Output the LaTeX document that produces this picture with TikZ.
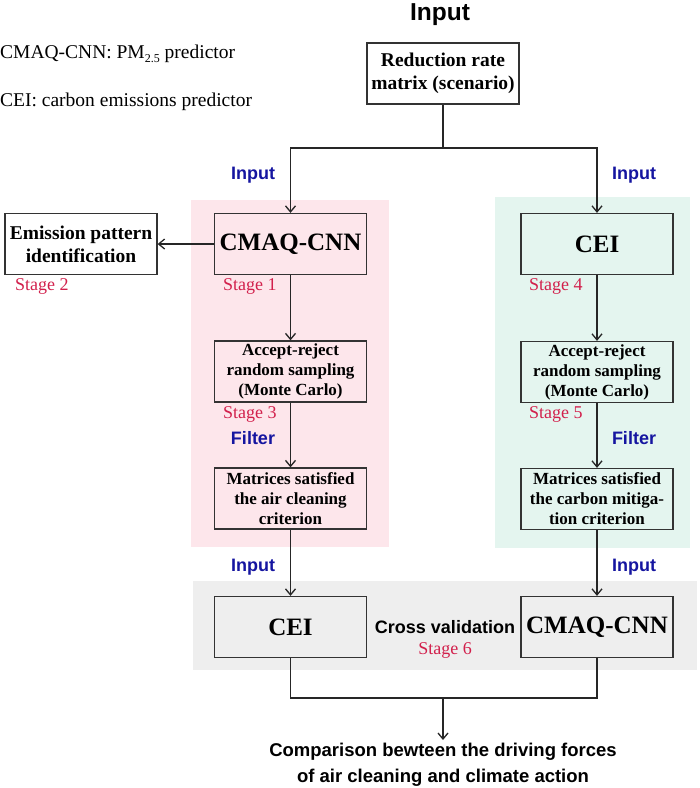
\documentclass[tikz,border=0pt]{standalone}
\usepackage{fontspec}
\setmainfont{Liberation Serif}
\setsansfont{Liberation Sans}
\usetikzlibrary{arrows.meta}

\definecolor{stagered}{HTML}{D2204C}
\definecolor{inblue}{HTML}{1515A0}
\definecolor{pinkbg}{HTML}{FDE6EB}
\definecolor{greenbg}{HTML}{E4F5EF}
\definecolor{graybg}{HTML}{EEEEEE}
\definecolor{boxline}{HTML}{333333}

\begin{document}
\begin{tikzpicture}[x=1pt, y=-1pt,
    box/.style={draw=boxline, line width=1.3pt, align=center, inner sep=0pt,
        minimum width=152pt, minimum height=61pt,
        font=\bfseries\fontsize{19.5}{23}\selectfont},
    smallbox/.style={box, font=\bfseries\fontsize{17}{20}\selectfont},
    bigbox/.style={box, font=\bfseries\fontsize{25}{28}\selectfont},
    inlab/.style={text=inblue, font=\sffamily\bfseries\fontsize{18}{21}\selectfont},
    stagelab/.style={text=stagered, inner sep=0pt, font=\fontsize{18}{21}\selectfont},
    arr/.style={-{Straight Barb[length=6pt, width=10pt]}, line width=1.3pt, draw=black!85},
    line/.style={line width=1.3pt, draw=black!85}]

    \useasboundingbox (0, 0) rectangle (700, 788);

    % Background panels
    \fill[pinkbg] (191, 200) rectangle (389, 547);
    \fill[greenbg] (495, 197) rectangle (690, 548);
    \fill[graybg] (193, 581) rectangle (697, 670);

    % Legend
    \node[anchor=west, inner sep=0pt, font=\fontsize{19.5}{22}\selectfont] (legA) at (0, 54)
        {CMAQ-CNN: PM\raisebox{-0.45ex}{\fontsize{12}{12}\selectfont 2.5} predictor};
    \node[anchor=west, inner sep=0pt, font=\fontsize{19.5}{22}\selectfont] (legB) at (0, 102)
        {CEI: carbon emissions predictor};

    % Title
    \node[font=\sffamily\bfseries\fontsize{24.5}{28}\selectfont] (title) at (440, 15) {Input};

    % Boxes
    \node[box, fill=white] (rrm) at (443, 73.5) {Reduction rate\\matrix (scenario)};
    \node[box, fill=white] (emis) at (81, 244) {Emission pattern\\identification};
    \node[bigbox] (cmaqA) at (290.5, 244) {CMAQ-CNN};
    \node[bigbox] (ceiA) at (597, 244) {CEI};
    \node[smallbox] (sampA) at (290.5, 371.5) {Accept-reject\\random sampling\\(Monte Carlo)};
    \node[smallbox] (sampB) at (597, 372) {Accept-reject\\random sampling\\(Monte Carlo)};
    \node[smallbox] (matA) at (290.5, 498.5) {Matrices satisfied\\the air cleaning\\criterion};
    \node[smallbox] (matB) at (597, 499) {Matrices satisfied\\the carbon mitiga-\\tion criterion};
    \node[bigbox] (ceiB) at (290.5, 627) {CEI};
    \node[bigbox] (cmaqB) at (597, 627) {CMAQ-CNN};

    % Labels
    \node[inlab] (inA) at (253, 175) {Input};
    \node[inlab] (inB) at (634, 175) {Input};
    \node[inlab] (fiA) at (253, 438) {Filter};
    \node[inlab] (fiB) at (634, 438) {Filter};
    \node[inlab] (inC) at (253, 567) {Input};
    \node[inlab] (inD) at (634, 567) {Input};
    \node[stagelab, anchor=west] (st2) at (15, 286) {Stage 2};
    \node[stagelab, anchor=west] (st1) at (223, 286) {Stage 1};
    \node[stagelab, anchor=west] (st4) at (529, 286) {Stage 4};
    \node[stagelab, anchor=west] (st3) at (223, 414) {Stage 3};
    \node[stagelab, anchor=west] (st5) at (529, 414) {Stage 5};
    \node[font=\sffamily\bfseries\fontsize{18}{21}\selectfont] (cross) at (445, 627) {Cross validation};
    \node[stagelab] (st6) at (445, 650) {Stage 6};
    \node[anchor=north, align=center, font=\sffamily\bfseries\fontsize{18.5}{26}\selectfont] (comp) at (443, 740)
        {Comparison bewteen the driving forces\\of air cleaning and climate action};

    % Connectors
    \coordinate (split) at (443, 148);
    \coordinate (merge) at (443, 698);
    \draw[line] (rrm.south) -- (split);
    \draw[arr] (split) -| (cmaqA.north);
    \draw[arr] (split) -| (ceiA.north);
    \draw[arr] (cmaqA.west) -- (emis.east);
    \draw[arr] (cmaqA) -- (sampA);
    \draw[arr] (sampA) -- (matA);
    \draw[arr] (matA) -- (ceiB);
    \draw[arr] (ceiA) -- (sampB);
    \draw[arr] (sampB) -- (matB);
    \draw[arr] (matB) -- (cmaqB);
    \draw[line] (ceiB.south) |- (merge);
    \draw[line] (cmaqB.south) |- (merge);
    \draw[arr] (merge) -- (comp.north);

\end{tikzpicture}
\end{document}
